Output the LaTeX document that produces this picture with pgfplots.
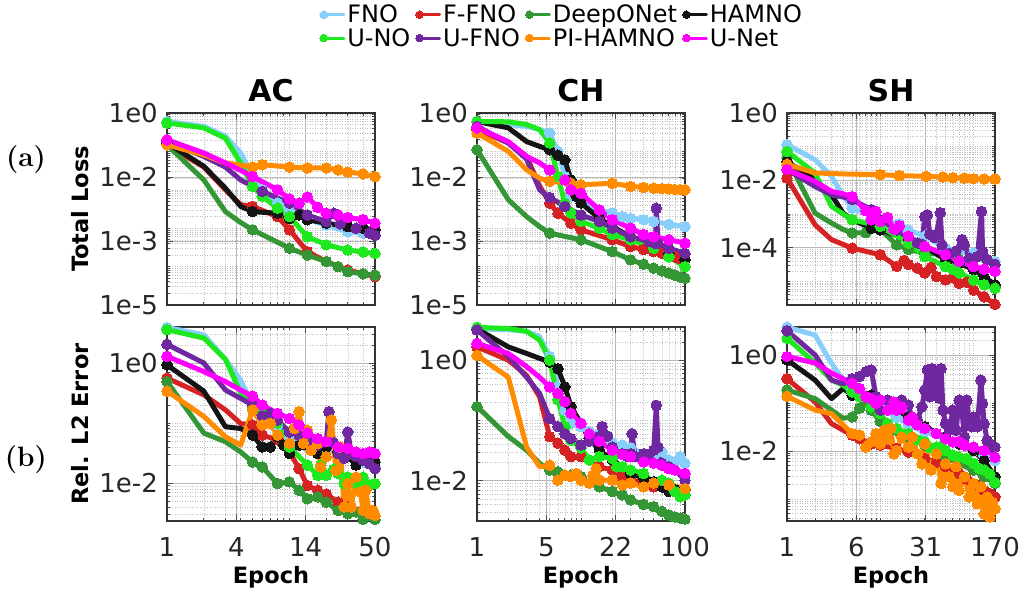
\documentclass[border=0pt]{standalone}
\usepackage{fontspec}
\usepackage{pgfplots}
\pgfplotsset{compat=1.18}
\newfontfamily\dv{DejaVu Sans}
\newcommand\tf{\dv\fontsize{26}{30}\selectfont}
\definecolor{cFNO}{RGB}{135,206,250}
\definecolor{cFFNO}{RGB}{214,34,34}
\definecolor{cDeep}{RGB}{52,150,52}
\definecolor{cHAM}{RGB}{20,20,20}
\definecolor{cUNO}{RGB}{30,232,30}
\definecolor{cUFNO}{RGB}{112,40,160}
\definecolor{cPI}{RGB}{255,140,0}
\definecolor{cUNet}{RGB}{255,0,255}
\pgfplotsset{
  every axis/.append style={
    scale only axis, width=208pt, clip=false,
    axis line style={draw=black!80, line width=1.2pt},
    tick style={draw=black!70, line width=0.8pt},
    major tick length=6pt, minor tick length=3pt,
    grid=both,
    major grid style={draw=black!28, line width=0.9pt},
    minor grid style={draw=black!25, line width=0.5pt, dotted},
    tick label style={font=\tf, text=black!85, inner sep=0pt},
    yticklabel style={anchor=east, xshift=-9pt},
    xticklabel style={anchor=north, yshift=-16pt},
    title style={font=\dv\bfseries\fontsize{30}{34}\selectfont, anchor=center, at={(0.5,1)}, yshift=16pt},
    ylabel style={at={(axis description cs:-0.418,0.5)}, anchor=center, font=\dv\bfseries\fontsize{22.5}{26}\selectfont},
    xlabel style={at={(axis description cs:0.5,-0.289)}, anchor=center, font=\dv\bfseries\fontsize{22.5}{26}\selectfont},
  },
  legend image code/.code={\draw[mark repeat=2,mark phase=2,#1,line width=3pt,mark size=3.8pt] plot coordinates {(0pt,0pt) (10pt,0pt) (20pt,0pt)};},
  MI/.style={mark indices={1,5,6,7,8,9,10,11,12,13,14,15,16,17,18,19,20,21,22,23,24,25,26,27,28,29,30,31,32,33,34,35,36,37,38,39,40,41,42,43,44,45,46,47,48,49,50,51,52,53,54,55,56,57,58,59,60}},
}
\tikzset{
  mymk/.style={mark=*, mark size=5.3pt, mark options={solid, line width=0pt}},
  sFNO/.style={color=cFNO, line width=5pt, line join=round, line cap=round, mymk},
  sFFNO/.style={color=cFFNO, line width=5pt, line join=round, line cap=round, mymk},
  sDeep/.style={color=cDeep, line width=5pt, line join=round, line cap=round, mymk},
  sHAM/.style={color=cHAM, line width=5pt, line join=round, line cap=round, mymk},
  sUNO/.style={color=cUNO, line width=5pt, line join=round, line cap=round, mymk},
  sUFNO/.style={color=cUFNO, line width=5pt, line join=round, line cap=round, mymk},
  sPI/.style={color=cPI, line width=5pt, line join=round, line cap=round, mymk},
  sUNet/.style={color=cUNet, line width=5pt, line join=round, line cap=round, mymk},
}
\begin{document}
\begin{tikzpicture}
\useasboundingbox (0,0) rectangle (1025pt,593pt);
% ---------------- AC top
\begin{axis}[xmode=log, ymode=log, at={(167pt,288pt)}, anchor=south west, height=192pt,
  xmin=1, xmax=50, xtick={1,3.684,13.572,50}, xticklabels={,,,}, minor xtick={2,3,4,5,6,7,8,9,10,20,30,40},
  ymin=1e-5, ymax=1, ytick={1,0.021544,4.6416e-4,1e-5}, yticklabels={1e0,1e-2,1e-3,1e-5},
  minor ytick={2e-5,3e-5,4e-5,5e-5,6e-5,7e-5,8e-5,9e-5,1e-4,2e-4,3e-4,4e-4,5e-4,6e-4,7e-4,8e-4,9e-4,1e-3,2e-3,3e-3,4e-3,5e-3,6e-3,7e-3,8e-3,9e-3,1e-2,2e-2,3e-2,4e-2,5e-2,6e-2,7e-2,8e-2,9e-2,0.1,0.2,0.3,0.4,0.5,0.6,0.7,0.8,0.9},
  title={AC}, ylabel={Total Loss},
  legend columns=4, legend cell align=left,
  legend style={at={(1.894,1.562)}, anchor=north, draw=none, fill=none, font=\dv\fontsize{24}{28}\selectfont, inner sep=0pt, outer sep=0pt,
    nodes={inner sep=0pt}, row sep=4pt, /tikz/every even column/.append style={column sep=5.5pt}, /tikz/every odd column/.append style={column sep=2pt}}]
\addplot[sFNO,MI] coordinates {(1,0.6)(2,0.45)(3,0.25)(4,0.091)(5,0.022)(6,0.01)(8,4.5e-3)(10,2.7e-3)(14,1.7e-3)(20,1.2e-3)(30,8.1e-4)(40,7.4e-4)(50,6.8e-4)};
\addlegendentry{FNO}
\addplot[sFFNO,MI] coordinates {(1,0.148)(2,0.039)(3,0.01)(4,4.1e-3)(5,3.7e-3)(8,2.0e-3)(10,9.1e-4)(14,2.45e-4)(20,1.35e-4)(30,8.1e-5)(40,6.5e-5)(50,5.5e-5)};
\addlegendentry{F-FNO}
\addplot[sDeep,MI] coordinates {(1,0.148)(2,0.018)(3,2.7e-3)(4,1.4e-3)(5,9.1e-4)(10,3.0e-4)(14,2.0e-4)(20,1.35e-4)(25,1e-4)(30,7.4e-5)(40,6.5e-5)(50,6.0e-5)};
\addlegendentry{DeepONet}
\addplot[sHAM,MI] coordinates {(1,0.166)(2,0.041)(3,0.011)(4,3.7e-3)(5,2.7e-3)(8,2.45e-3)(10,1.8e-3)(12,2.2e-3)(14,1.66e-3)(20,1.35e-3)(30,1.1e-3)(40,1.0e-3)(50,9.1e-4)};
\addlegendentry{HAMNO}
\addplot[sUNO,MI] coordinates {(1,0.55)(2,0.41)(3,0.22)(4,0.05)(5,0.0123)(6,6.8e-3)(8,3.3e-3)(10,2.0e-3)(14,6.0e-4)(20,3.7e-4)(30,2.7e-4)(40,2.4e-4)(50,2.2e-4)};
\addlegendentry{U-NO}
\addplot[sUFNO,MI] coordinates {(1,0.18)(2,0.074)(3,0.039)(4,0.018)(6,9.1e-3)(10,4.5e-3)(14,2.2e-3)(20,1.5e-3)(23,2.45e-3)(26,1.3e-3)(35,1.0e-3)(45,7.4e-4)(50,6.5e-4)};
\addlegendentry{U-FNO}
\addplot[sPI,MI] coordinates {(1,0.148)(2,0.081)(3,0.05)(4,0.044)(5,0.039)(6,0.045)(10,0.039)(14,0.037)(20,0.037)(25,0.033)(30,0.029)(40,0.026)(50,0.022)};
\addlegendentry{PI-HAMNO}
\addplot[sUNet,MI] coordinates {(1,0.20)(2,0.091)(3,0.05)(4,0.032)(5,0.022)(8,0.01)(10,5.8e-3)(12,4.5e-3)(14,6.5e-3)(17,3.5e-3)(20,2.45e-3)(25,2.2e-3)(30,1.9e-3)(40,1.66e-3)(50,1.35e-3)};
\addlegendentry{U-Net}
\end{axis}
% ---------------- CH top
\begin{axis}[xmode=log, ymode=log, at={(477pt,288pt)}, anchor=south west, height=192pt,
  xmin=1, xmax=100, xtick={1,4.642,21.544,100}, xticklabels={,,,}, minor xtick={2,3,4,5,6,7,8,9,10,20,30,40,50,60,70,80,90},
  ymin=1e-5, ymax=1, ytick={1,0.021544,4.6416e-4,1e-5}, yticklabels={1e0,1e-2,1e-3,1e-5},
  minor ytick={2e-5,3e-5,4e-5,5e-5,6e-5,7e-5,8e-5,9e-5,1e-4,2e-4,3e-4,4e-4,5e-4,6e-4,7e-4,8e-4,9e-4,1e-3,2e-3,3e-3,4e-3,5e-3,6e-3,7e-3,8e-3,9e-3,1e-2,2e-2,3e-2,4e-2,5e-2,6e-2,7e-2,8e-2,9e-2,0.1,0.2,0.3,0.4,0.5,0.6,0.7,0.8,0.9},
  title={CH}]
\addplot[sFNO,MI] coordinates {(1,0.6)(2,0.5)(3,0.45)(4,0.37)(5,0.3)(6,0.1)(7,0.022)(8,6.8e-3)(10,4.5e-3)(15,3.0e-3)(20,2.5e-3)(25,2.0e-3)(30,1.8e-3)(40,1.66e-3)(50,1.5e-3)(70,1.26e-3)(100,1.1e-3)};
\addplot[sFFNO,MI] coordinates {(1,0.37)(2,0.166)(3,0.074)(4,0.0126)(5,4.5e-3)(6,2.45e-3)(8,1.35e-3)(10,9.1e-4)(20,5.0e-4)(30,3.3e-4)(40,2.8e-4)(50,2.45e-4)(60,2.2e-4)(70,2.0e-4)(80,1.8e-4)(90,1.6e-4)(100,1.5e-4)};
\addplot[sDeep,MI] coordinates {(1,0.11)(2,5.5e-3)(3,2.0e-3)(4,1.1e-3)(5,7.4e-4)(10,5.0e-4)(20,2.45e-4)(30,1.5e-4)(40,1.15e-4)(50,9.1e-5)(60,7.8e-5)(70,6.8e-5)(80,6e-5)(90,5.4e-5)(100,5.0e-5)};
\addplot[sHAM,MI] coordinates {(1,0.6)(2,0.41)(3,0.18)(4,0.135)(5,0.11)(6,0.08)(7,0.06)(8,0.018)(9,6.8e-3)(10,4.5e-3)(15,1.8e-3)(20,1.1e-3)(30,6.0e-4)(50,3.3e-4)(70,2.2e-4)(100,1.5e-4)};
\addplot[sUNO,MI] coordinates {(1,0.6)(2,0.59)(3,0.5)(4,0.37)(5,0.166)(6,0.022)(7,4.5e-3)(8,2.5e-3)(10,1.5e-3)(15,1.0e-3)(20,6.8e-4)(30,5.0e-4)(50,3.0e-4)(70,1.8e-4)(100,1.0e-4)};
\addplot[sUFNO,MI] coordinates {(1,0.45)(2,0.166)(3,0.063)(4,0.01)(5,6.3e-3)(7,3.7e-3)(10,2.2e-3)(15,1.5e-3)(20,1.0e-3)(30,6.0e-4)(45,4.5e-4)(52,4.0e-4)(53,3.3e-3)(55,4.0e-4)(70,3.0e-4)(100,2.2e-4)};
\addplot[sPI,MI] coordinates {(1,0.3)(2,0.1)(3,0.033)(4,0.02)(5,0.0166)(8,0.0148)(10,0.0135)(20,0.0148)(30,0.0123)(40,0.0115)(50,0.011)(60,0.0108)(70,0.0105)(80,0.0102)(90,0.0101)(100,0.01)};
\addplot[sUNet,MI] coordinates {(1,0.41)(2,0.18)(3,0.074)(4,0.05)(5,0.033)(7,0.018)(8,0.01)(10,8.1e-3)(15,3.0e-3)(20,1.66e-3)(30,1.0e-3)(40,6.8e-4)(50,6.0e-4)(70,5.0e-4)(100,4.1e-4)};
\end{axis}
% ---------------- SH top
\begin{axis}[xmode=log, ymode=log, at={(787pt,288pt)}, anchor=south west, height=192pt,
  xmin=1, xmax=170, xtick={1,5.54,30.69,170}, xticklabels={,,,}, minor xtick={2,3,4,5,6,7,8,9,10,20,30,40,50,60,70,80,90,100},
  ymin=2e-6, ymax=1, ytick={1,1e-2,1e-4}, yticklabels={1e0,1e-2,1e-4},
  minor ytick={3e-6,4e-6,5e-6,6e-6,7e-6,8e-6,9e-6,1e-5,2e-5,3e-5,4e-5,5e-5,6e-5,7e-5,8e-5,9e-5,2e-4,3e-4,4e-4,5e-4,6e-4,7e-4,8e-4,9e-4,1e-3,2e-3,3e-3,4e-3,5e-3,6e-3,7e-3,8e-3,9e-3,2e-2,3e-2,4e-2,5e-2,6e-2,7e-2,8e-2,9e-2,0.1,0.2,0.3,0.4,0.5,0.6,0.7,0.8,0.9},
  title={SH}]
\addplot[sFNO,MI] coordinates {(1,0.115)(2,0.041)(3,0.0132)(4,3.5e-3)(5,1.5e-3)(10,6.8e-4)(16,5.1e-4)(20,3.4e-4)(30,2.2e-4)(50,9.8e-5)(70,8e-5)(100,6.9e-5)(130,5e-5)(170,3.9e-5)};
\addplot[sFFNO,MI] coordinates {(1,0.0117)(2,4.8e-4)(3,1.74e-4)(4,1.26e-4)(5,9.8e-5)(10,6.2e-5)(15,2.8e-5)(18,4.2e-5)(20,3.2e-5)(25,2.5e-5)(30,1.78e-5)(35,2.6e-5)(40,1.4e-5)(50,1.12e-5)(60,1.3e-5)(70,8.9e-6)(85,9.5e-6)(100,5.6e-6)(130,3.5e-6)(170,2.1e-6)};
\addplot[sDeep,MI] coordinates {(1,0.046)(2,1.07e-3)(3,5.4e-4)(4,3.5e-4)(5,2.75e-4)(7,2.8e-4)(10,3.5e-4)(15,1.23e-4)(20,8.9e-5)(30,6.9e-5)(50,6.2e-5)(70,4.5e-5)(100,2.8e-5)(170,7.1e-6)};
\addplot[sHAM,MI] coordinates {(1,0.036)(2,0.0105)(3,3.7e-3)(4,1.07e-3)(5,6.8e-4)(8,3.8e-4)(10,3.4e-4)(20,1.74e-4)(30,1.1e-4)(50,4.4e-5)(70,3.5e-5)(100,2.24e-5)(130,1.4e-5)(170,7.9e-6)};
\addplot[sUNO,MI] coordinates {(1,0.072)(2,0.0166)(3,1.7e-3)(4,1.0e-3)(5,6.8e-4)(10,4.3e-4)(20,1.38e-4)(30,5.5e-5)(50,2.8e-5)(60,2.3e-5)(70,1.8e-5)(100,1.1e-5)(130,8e-6)(170,6.3e-6)};
\addplot[sUFNO,MI] coordinates {(1,0.021)(2,6.6e-3)(3,3.7e-3)(4,3.2e-3)(5,2.7e-3)(8,1.35e-3)(10,6.8e-4)(15,3.4e-4)(20,2.2e-4)(25,1.4e-4)(28,1.26e-4)(30,8.5e-4)(32,9.5e-4)(34,2.5e-4)(38,2.0e-4)(40,2.5e-4)(44,1.1e-3)(46,1.2e-4)(55,6.8e-5)(65,8e-5)(75,1.74e-4)(80,1.2e-4)(90,5e-5)(100,4.4e-5)(110,5.5e-5)(122,1.2e-3)(125,8e-5)(140,4.5e-5)(170,3.2e-5)};
\addplot[sPI,MI] coordinates {(1,0.03)(2,0.0166)(3,0.016)(4,0.0155)(10,0.0148)(16,0.0138)(31,0.0132)(47,0.0126)(60,0.012)(80,0.0116)(100,0.0112)(130,0.0111)(170,0.011)};
\addplot[sUNet,MI] coordinates {(1,0.021)(2,9.3e-3)(3,4.7e-3)(4,4.0e-3)(5,3.3e-3)(7,1.26e-3)(8,6.8e-4)(9,1.2e-3)(10,6.0e-4)(12,8e-4)(14,3.5e-4)(16,4.5e-4)(20,2.2e-4)(30,1.1e-4)(50,6.2e-5)(70,4e-5)(100,2.8e-5)(130,2.3e-5)(170,2.0e-5)};
\end{axis}
% ---------------- AC bottom
\begin{axis}[xmode=log, ymode=log, at={(167pt,72pt)}, anchor=south west, height=194pt,
  xmin=1, xmax=50, xtick={1,3.684,13.572,50}, xticklabels={1,4,14,50}, minor xtick={2,3,4,5,6,7,8,9,10,20,30,40},
  ymin=2.34e-3, ymax=3.98, ytick={1,0.01}, yticklabels={1e0,1e-2},
  minor ytick={3e-3,4e-3,5e-3,6e-3,7e-3,8e-3,9e-3,2e-2,3e-2,4e-2,5e-2,6e-2,7e-2,8e-2,9e-2,0.1,0.2,0.3,0.4,0.5,0.6,0.7,0.8,0.9,2,3},
  ylabel={Rel. L2 Error}, xlabel={Epoch}]
\addplot[sFNO,MI] coordinates {(1,3.9)(2,2.95)(3,1.15)(4,0.52)(5,0.186)(6,0.129)(8,0.093)(10,0.055)(14,0.04)(20,0.035)(30,0.0275)(40,0.0224)(50,0.0186)};
\addplot[sFFNO,MI] coordinates {(1,0.56)(2,0.295)(3,0.166)(4,0.098)(5,0.093)(6,0.063)(8,0.0525)(10,0.033)(12,0.0174)(14,0.0091)(17,0.0076)(20,0.0066)(25,0.0048)(30,0.004)(40,0.0035)(50,0.0029)};
\addplot[sDeep,MI] coordinates {(1,0.49)(2,0.068)(3,0.049)(4,0.033)(5,0.0224)(6,0.0186)(8,0.0098)(10,0.0105)(12,0.0076)(14,0.0055)(17,0.0059)(20,0.0048)(25,0.0035)(30,0.0031)(35,0.0033)(40,0.0025)(45,0.0029)(50,0.0025)};
\addplot[sHAM,MI] coordinates {(1,0.93)(2,0.34)(3,0.087)(4,0.081)(5,0.063)(6,0.04)(7,0.04)(8,0.059)(9,0.043)(10,0.031)(12,0.043)(14,0.043)(17,0.031)(20,0.04)(25,0.033)(30,0.0275)(35,0.02)(40,0.026)(45,0.028)(50,0.0224)};
\addplot[sUNO,MI] coordinates {(1,3.6)(2,2.6)(3,1.15)(4,0.32)(5,0.178)(6,0.145)(8,0.1)(10,0.04)(14,0.02)(17,0.0135)(18,0.02)(20,0.0135)(23,0.017)(25,0.0145)(28,0.0098)(30,0.0126)(33,0.0105)(35,0.0115)(38,0.009)(40,0.0125)(45,0.0093)(50,0.0098)};
\addplot[sUFNO,MI] coordinates {(1,2.04)(2,1.0)(3,0.355)(4,0.257)(5,0.2)(6,0.132)(7,0.145)(8,0.112)(10,0.071)(12,0.062)(14,0.049)(17,0.043)(20,0.049)(21,0.155)(23,0.047)(25,0.031)(28,0.026)(30,0.071)(32,0.031)(35,0.028)(40,0.024)(45,0.021)(50,0.0174)};
\addplot[sPI,MI] coordinates {(1,0.34)(2,0.129)(3,0.059)(4,0.043)(5,0.166)(6,0.093)(7,0.098)(8,0.063)(10,0.046)(11,0.081)(12,0.155)(13,0.046)(14,0.076)(15,0.035)(17,0.046)(18,0.0186)(20,0.0275)(22,0.112)(24,0.0162)(26,0.04)(28,0.004)(30,0.0098)(32,0.004)(35,0.0126)(38,0.0071)(40,0.0035)(42,0.0076)(45,0.0031)(48,0.0035)(50,0.0029)};
\addplot[sUNet,MI] coordinates {(1,1.29)(2,0.72)(3,0.49)(4,0.355)(5,0.28)(6,0.2)(8,0.145)(10,0.12)(12,0.093)(14,0.068)(17,0.055)(20,0.049)(25,0.04)(30,0.038)(35,0.033)(40,0.031)(45,0.033)(50,0.031)};
\end{axis}
% ---------------- CH bottom
\begin{axis}[xmode=log, ymode=log, at={(477pt,72pt)}, anchor=south west, height=194pt,
  xmin=1, xmax=100, xtick={1,4.642,21.544,100}, xticklabels={1,5,22,100}, minor xtick={2,3,4,5,6,7,8,9,10,20,30,40,50,60,70,80,90},
  ymin=2.14e-3, ymax=3.55, ytick={1,0.01}, yticklabels={1e0,1e-2},
  minor ytick={3e-3,4e-3,5e-3,6e-3,7e-3,8e-3,9e-3,2e-2,3e-2,4e-2,5e-2,6e-2,7e-2,8e-2,9e-2,0.1,0.2,0.3,0.4,0.5,0.6,0.7,0.8,0.9,2,3},
  xlabel={Epoch}]
\addplot[sFNO,MI] coordinates {(1,3.3)(2,3.2)(3,3.0)(4,2.45)(5,1.15)(6,0.36)(7,0.148)(8,0.089)(10,0.079)(12,0.065)(15,0.058)(20,0.042)(25,0.039)(30,0.035)(40,0.028)(50,0.025)(60,0.03)(70,0.022)(80,0.0205)(90,0.025)(100,0.0195)};
\addplot[sFFNO,MI] coordinates {(1,1.66)(2,1.0)(3,0.56)(4,0.245)(5,0.054)(6,0.042)(7,0.032)(8,0.025)(10,0.025)(15,0.017)(20,0.015)(25,0.0117)(30,0.0102)(40,0.0091)(50,0.0079)(70,0.0071)(100,0.0058)};
\addplot[sDeep,MI] coordinates {(1,0.17)(2,0.054)(3,0.032)(4,0.0195)(5,0.015)(6,0.014)(8,0.0123)(10,0.0117)(12,0.0091)(15,0.0079)(20,0.0066)(25,0.0058)(30,0.0048)(40,0.004)(50,0.0037)(60,0.0031)(70,0.0027)(80,0.0025)(90,0.0024)(100,0.0023)};
\addplot[sHAM,MI] coordinates {(1,3.3)(2,1.66)(3,1.29)(4,1.07)(5,0.93)(6,0.72)(7,0.36)(8,0.17)(10,0.089)(12,0.05)(15,0.032)(20,0.022)(25,0.017)(30,0.0132)(40,0.011)(50,0.0096)(60,0.0079)(70,0.0066)(80,0.0071)(100,0.0071)};
\addplot[sUNO,MI] coordinates {(1,3.5)(2,3.35)(3,3.0)(4,2.15)(5,1.0)(6,0.22)(7,0.079)(8,0.047)(10,0.035)(12,0.022)(15,0.025)(20,0.0235)(22,0.017)(25,0.017)(30,0.015)(40,0.0132)(50,0.0091)(60,0.0102)(70,0.0091)(80,0.0066)(90,0.0054)(100,0.0058)};
\addplot[sUFNO,MI] coordinates {(1,3.16)(2,1.15)(3,0.52)(4,0.28)(5,0.107)(6,0.079)(7,0.06)(8,0.05)(10,0.039)(12,0.045)(15,0.054)(16,0.079)(17,0.054)(18,0.055)(20,0.036)(25,0.028)(28,0.025)(30,0.028)(31,0.06)(33,0.025)(40,0.028)(45,0.0235)(50,0.032)(53,0.178)(55,0.036)(60,0.0195)(70,0.017)(80,0.015)(100,0.0102)};
\addplot[sPI,MI] coordinates {(1,1.2)(2,0.52)(3,0.036)(4,0.017)(5,0.018)(6,0.0102)(7,0.0123)(8,0.0117)(9,0.0132)(10,0.0102)(12,0.0091)(13,0.0123)(14,0.0158)(15,0.0102)(20,0.0102)(25,0.0085)(30,0.0091)(40,0.0079)(50,0.0091)(70,0.0085)(100,0.0074)};
\addplot[sUNet,MI] coordinates {(1,1.9)(2,1.29)(3,0.78)(4,0.52)(5,0.36)(6,0.28)(7,0.204)(8,0.132)(10,0.089)(12,0.06)(15,0.045)(20,0.032)(25,0.027)(30,0.025)(40,0.0205)(50,0.0195)(60,0.018)(70,0.0158)(80,0.015)(100,0.0132)};
\end{axis}
% ---------------- SH bottom
\begin{axis}[xmode=log, ymode=log, at={(787pt,72pt)}, anchor=south west, height=194pt,
  xmin=1, xmax=170, xtick={1,5.54,30.69,170}, xticklabels={1,6,31,170}, minor xtick={2,3,4,5,6,7,8,9,10,20,30,40,50,60,70,80,90,100},
  ymin=3.47e-4, ymax=3.83, ytick={1,0.01}, yticklabels={1e0,1e-2},
  minor ytick={4e-4,5e-4,6e-4,7e-4,8e-4,9e-4,1e-3,2e-3,3e-3,4e-3,5e-3,6e-3,7e-3,8e-3,9e-3,2e-2,3e-2,4e-2,5e-2,6e-2,7e-2,8e-2,9e-2,0.1,0.2,0.3,0.4,0.5,0.6,0.7,0.8,0.9,2,3},
  xlabel={Epoch}]
\addplot[sFNO,MI] coordinates {(1,3.8)(2,2.6)(3,0.67)(4,0.3)(5,0.186)(6,0.158)(8,0.105)(10,0.083)(15,0.05)(20,0.035)(30,0.025)(50,0.0178)(70,0.014)(100,0.01)(130,0.0079)(170,0.0063)};
\addplot[sFFNO,MI] coordinates {(1,0.32)(2,0.105)(3,0.037)(4,0.027)(5,0.0214)(6,0.018)(8,0.014)(10,0.0132)(15,0.0112)(20,0.0095)(30,0.0069)(40,0.0058)(50,0.0047)(60,0.0041)(70,0.0034)(85,0.0026)(100,0.0021)(115,0.0019)(130,0.0015)(150,0.0013)(170,0.0011)};
\addplot[sDeep,MI] coordinates {(1,0.186)(2,0.123)(3,0.071)(4,0.048)(5,0.051)(6,0.078)(7,0.105)(8,0.071)(10,0.041)(15,0.027)(20,0.0195)(30,0.0132)(50,0.0074)(70,0.0054)(100,0.004)(130,0.0029)(170,0.0021)};
\addplot[sHAM,MI] coordinates {(1,0.79)(2,0.3)(3,0.123)(4,0.2)(5,0.145)(6,0.145)(8,0.145)(10,0.115)(15,0.071)(20,0.051)(30,0.032)(50,0.0195)(70,0.014)(100,0.0102)(130,0.0063)(170,0.0029)};
\addplot[sUNO,MI] coordinates {(1,2.24)(2,0.68)(3,0.3)(4,0.234)(5,0.17)(6,0.135)(8,0.083)(10,0.06)(12,0.037)(15,0.0295)(20,0.023)(25,0.017)(30,0.0155)(35,0.0115)(40,0.012)(45,0.0125)(50,0.0102)(60,0.0082)(70,0.0074)(85,0.0068)(100,0.0055)(115,0.0043)(130,0.004)(150,0.0033)(170,0.0022)};
\addplot[sUFNO,MI] coordinates {(1,3.2)(2,1.0)(3,0.3)(4,0.25)(5,0.32)(6,0.355)(7,0.45)(8,0.49)(9,0.135)(10,0.071)(12,0.115)(15,0.083)(17,0.115)(20,0.091)(22,0.044)(25,0.044)(28,0.083)(30,0.186)(32,0.49)(34,0.135)(36,0.52)(38,0.158)(41,0.46)(43,0.126)(45,0.52)(47,0.071)(50,0.037)(55,0.027)(60,0.071)(65,0.027)(70,0.115)(75,0.071)(80,0.0195)(85,0.115)(90,0.037)(95,0.032)(100,0.051)(110,0.032)(120,0.3)(125,0.098)(130,0.037)(140,0.0166)(150,0.014)(160,0.012)(170,0.012)};
\addplot[sPI,MI] coordinates {(1,0.138)(2,0.071)(3,0.06)(4,0.035)(5,0.023)(6,0.0214)(7,0.012)(8,0.0155)(9,0.023)(10,0.014)(11,0.027)(12,0.018)(13,0.0295)(14,0.0087)(15,0.0102)(17,0.0195)(20,0.012)(22,0.0195)(25,0.0087)(28,0.0054)(30,0.014)(35,0.004)(40,0.0087)(45,0.0021)(50,0.0054)(55,0.0029)(60,0.0018)(65,0.0047)(70,0.0015)(80,0.0029)(90,0.0011)(100,0.0021)(110,7.9e-4)(120,0.0018)(130,4.9e-4)(140,0.0011)(150,4.2e-4)(160,8.5e-4)(170,6.2e-4)};
\addplot[sUNet,MI] coordinates {(1,0.93)(2,0.68)(3,0.42)(4,0.32)(5,0.257)(6,0.2)(7,0.135)(8,0.123)(9,0.098)(10,0.115)(12,0.071)(14,0.105)(15,0.071)(17,0.083)(20,0.044)(22,0.051)(25,0.035)(30,0.0295)(40,0.023)(50,0.018)(60,0.0155)(70,0.0155)(80,0.0132)(100,0.012)(130,0.0102)(170,0.0074)};
\end{axis}
\node[font=\fontsize{28}{32}\selectfont\bfseries] at (26pt,433pt) {(a)};
\node[font=\fontsize{28}{32}\selectfont\bfseries] at (26pt,133pt) {(b)};
\end{tikzpicture}
\end{document}
